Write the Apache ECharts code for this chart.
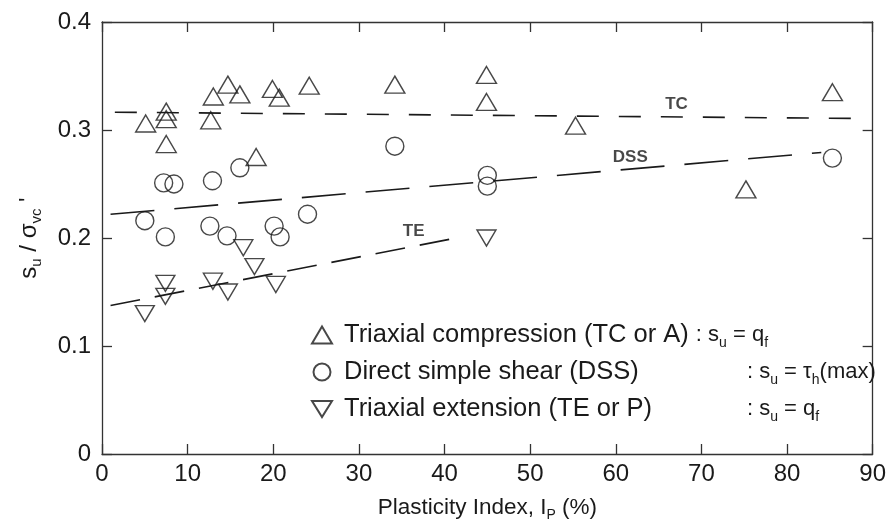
<!DOCTYPE html>
<html>
<head>
<meta charset="utf-8">
<script src="https://cdn.jsdelivr.net/npm/echarts@6/dist/echarts.min.js"></script>
<style>
	html, body { margin: 0; background: #fff; }
	#main { width: 889px; height: 532px; }
</style>
</head>
<body>
<div id="main"></div>
<script>
	// 数据: [Ip (%), su / σvc']
	var tcPoints = [
		[5.1, 0.306], [7.5, 0.317], [7.5, 0.310], [7.5, 0.287], [12.7, 0.309], [13.0, 0.331],
		[14.7, 0.342], [16.1, 0.333], [18.0, 0.275], [19.9, 0.338], [20.7, 0.330], [24.2, 0.341],
		[34.2, 0.342], [44.9, 0.351], [44.9, 0.326], [55.3, 0.304], [75.2, 0.245], [85.3, 0.335]
	];
	var dssPoints = [
		[5.0, 0.216], [7.2, 0.251], [7.4, 0.201], [8.4, 0.250], [12.6, 0.211], [12.9, 0.253],
		[14.6, 0.202], [16.1, 0.265], [20.1, 0.211], [20.8, 0.201], [24.0, 0.222], [34.2, 0.285],
		[45.0, 0.258], [45.0, 0.248], [85.3, 0.274]
	];
	var tePoints = [
		[5.0, 0.130], [7.4, 0.158], [7.4, 0.146], [12.95, 0.160], [14.7, 0.150], [16.5, 0.191],
		[17.8, 0.1735], [20.3, 0.157], [44.9, 0.200]
	];
	// 趋势线端点
	var tcLine = [[1.5, 0.3165], [88, 0.3107]];
	var dssLine = [[1, 0.222], [84, 0.2792]];
	var teLine = [[1, 0.1375], [42, 0.201]];
	// 线上的文字
	var lineLabels = [[67.1, 0.324, 'TC'], [61.7, 0.275, 'DSS'], [36.4, 0.206, 'TE']];

	var xTicks = { min: 0, max: 90, interval: 10 };
	var yTicks = { min: 0, max: 0.4, interval: 0.1 };

	var seriesNames = ['Triaxial compression (TC or A)', 'Direct simple shear (DSS)', 'Triaxial extension (TE or P)'];
	var seriesRules = [
		'{t|: s}{s|u}{t| = q}{s|f}',
		'{t|: s}{s|u}{t| = τ}{s|h}{t|(max)}',
		'{t|: s}{s|u}{t| = q}{s|f}'
	];

	var ink = '#1a1a1a';
	var font = '"Liberation Sans", Arial, sans-serif';
	var downTri = 'path://M0,0L20,0L10,16Z';

	var myChart = echarts.init(document.getElementById('main'));

	function markerStyle() {
		return { color: 'rgba(0,0,0,0)', borderColor: ink, borderWidth: 1.4 };
	}
	function trend(data, dash) {
		return {
			type: 'line', data: data, symbol: 'none', silent: true,
			lineStyle: { color: ink, width: 1.6, type: dash }, z: 1
		};
	}
	function axisCommon(isX, show) {
		var t = isX ? xTicks : yTicks;
		return {
			type: 'value', min: t.min, max: t.max, interval: t.interval,
			splitLine: { show: false },
			axisLine: { show: true, onZero: false, lineStyle: { color: '#333', width: 1.3 } },
			axisTick: { show: true, inside: true, length: 10, lineStyle: { color: '#333', width: 1.3 } },
			axisLabel: {
				show: show, color: ink, fontFamily: font, fontSize: 24,
				margin: isX ? 8 : 11,
				formatter: function (v) { return isX ? String(v) : String(+v.toFixed(1)); }
			}
		};
	}

	var xBottom = axisCommon(true, true);
	xBottom.position = 'bottom';
	xBottom.name = '{a|Plasticity Index, I}{s|P}{a| (%)}';
	xBottom.nameLocation = 'middle';
	xBottom.nameGap = 40;
	xBottom.nameTextStyle = {
		rich: {
			a: { fontFamily: font, fontSize: 22.5, color: ink, lineHeight: 28 },
			s: { fontFamily: font, fontSize: 14, color: ink, lineHeight: 14, verticalAlign: 'bottom' }
		}
	};
	var xTop = axisCommon(true, false);
	xTop.position = 'top';

	var yLeft = axisCommon(false, true);
	yLeft.position = 'left';
	yLeft.name = "{a|s}{s|u}{a| / σ}{s|vc}{a| '}";
	yLeft.nameLocation = 'middle';
	yLeft.nameGap = 58;
	yLeft.nameTextStyle = {
		rich: {
			a: { fontFamily: font, fontSize: 24, color: ink, lineHeight: 30 },
			s: { fontFamily: font, fontSize: 15, color: ink, lineHeight: 15, verticalAlign: 'bottom' }
		}
	};
	var yRight = axisCommon(false, false);
	yRight.position = 'right';

	myChart.setOption({
		animation: false,
		backgroundColor: '#fff',
		grid: { left: 102, right: 16, top: 22, bottom: 78, containLabel: false },
		xAxis: [xBottom, xTop],
		yAxis: [yLeft, yRight],
		legend: {
			orient: 'vertical',
			left: 311,
			top: 322,
			padding: 0,
			itemWidth: 20,
			itemHeight: 17,
			itemGap: 9,
			selectedMode: false,
			data: [
				{ name: seriesNames[0], icon: 'triangle' },
				{ name: seriesNames[1], icon: 'circle' },
				{ name: seriesNames[2], icon: downTri }
			],
			formatter: function (name) {
				var i = seriesNames.indexOf(name);
				var head = i === 0 ? '{n|' + name + ' }' : '{w|' + name + '}';
				return head + seriesRules[i];
			},
			textStyle: {
				rich: {
					n: { fontFamily: font, fontSize: 25.5, color: ink, lineHeight: 30, padding: [0, 0, 0, 7] },
					w: { fontFamily: font, fontSize: 25.5, color: ink, lineHeight: 30, width: 403, padding: [0, 0, 0, 7] },
					t: { fontFamily: font, fontSize: 22, color: ink, lineHeight: 30 },
					s: { fontFamily: font, fontSize: 14, color: ink, lineHeight: 14, verticalAlign: 'bottom' }
				}
			}
		},
		series: [
			trend(tcLine, [22, 20]),
			trend(dssLine, [44, 20]),
			trend(teLine, [30, 15]),
			{
				name: seriesNames[0], type: 'scatter', data: tcPoints,
				symbol: 'triangle', symbolSize: [20, 17], itemStyle: markerStyle(), z: 3
			},
			{
				name: seriesNames[1], type: 'scatter', data: dssPoints,
				symbol: 'circle', symbolSize: 18, itemStyle: markerStyle(), z: 3
			},
			{
				name: seriesNames[2], type: 'scatter', data: tePoints,
				symbol: downTri, symbolSize: [19, 16], itemStyle: markerStyle(), z: 3
			},
			{
				type: 'scatter', data: lineLabels, symbolSize: 1, silent: true, z: 4,
				itemStyle: { color: 'rgba(0,0,0,0)' },
				label: {
					show: true, position: 'inside', color: ink, fontFamily: font,
					fontSize: 17, fontWeight: 'bold',
					formatter: function (p) { return p.data[2]; }
				}
			}
		]
	});
</script>
</body>
</html>
